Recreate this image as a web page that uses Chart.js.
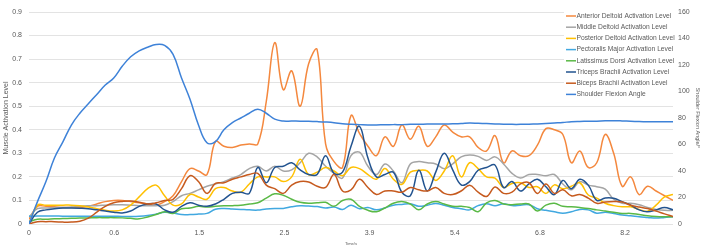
<!DOCTYPE html>
<html><head><meta charset="utf-8">
<script src="https://cdn.jsdelivr.net/npm/chart.js@4/dist/chart.umd.min.js"></script>
<style>html,body{margin:0;padding:0;background:#fff}#wrap{position:relative;width:703px;height:249px}</style>
</head><body><div id="wrap"><canvas id="c" width="703" height="249"></canvas></div>
<script>
// x tick labels (time, s) shown every ~10 samples
const xTickLabels = ['0','0.6','1.5','2.5','3.9','5.4','6.8','8.2'];
const samplesPerLabel = 10.05;
const yTickLabels = ['0','0.1','0.2','0.3','0.4','0.5','0.6','0.7','0.8','0.9'];
const y1TickLabels = ['0','20','40','60','80','100','120','140','160'];
const seriesNames = ['Anterior Deltoid Activation Level','Middle Deltoid Activation Level','Posterior Deltoid Activation Level','Pectoralis Major Activation Level','Latissimus Dorsi Activation Level','Triceps Brachii Activation Level','Biceps Brachii Activation Level','Shoulder Flexion Angle'];
const seriesColors = ['#F4883E','#A5A5A5','#FFC000','#41A8E0','#5AB946','#22538F','#C65A1E','#3E82D8'];

const anteriorDeltoid = [0.02,0.075,0.075,0.073,0.07,0.07,0.07,0.075,0.085,0.095,
 0.1,0.1,0.095,0.09,0.085,0.08,0.095,0.12,0.18,0.235,
 0.225,0.21,0.35,0.33,0.325,0.335,0.34,0.34,0.52,0.77,
 0.57,0.65,0.5,0.68,0.74,0.34,0.265,0.24,0.46,0.385,
 0.33,0.29,0.37,0.33,0.42,0.36,0.415,0.33,0.37,0.42,
 0.39,0.37,0.37,0.325,0.31,0.375,0.26,0.31,0.29,0.29,
 0.335,0.405,0.4,0.38,0.26,0.31,0.24,0.26,0.38,0.3,
 0.16,0.2,0.125,0.16,0.14,0.12,0.1];
const middleDeltoid = [0.03,0.065,0.068,0.07,0.07,0.072,0.075,0.077,0.078,0.08,
 0.082,0.082,0.08,0.078,0.078,0.078,0.08,0.095,0.12,0.13,
 0.145,0.16,0.17,0.18,0.195,0.21,0.235,0.245,0.225,0.245,
 0.225,0.23,0.26,0.3,0.285,0.245,0.215,0.195,0.29,0.305,
 0.245,0.21,0.255,0.225,0.175,0.255,0.265,0.26,0.255,0.235,
 0.255,0.285,0.293,0.287,0.27,0.285,0.255,0.215,0.195,0.21,
 0.21,0.205,0.21,0.17,0.145,0.18,0.165,0.158,0.148,0.105,
 0.088,0.088,0.082,0.07,0.062,0.058,0.058];
const posteriorDeltoid = [0.0,0.08,0.08,0.08,0.08,0.08,0.077,0.072,0.065,0.058,
 0.055,0.06,0.08,0.115,0.15,0.165,0.12,0.08,0.085,0.125,
 0.115,0.105,0.15,0.155,0.14,0.135,0.17,0.2,0.2,0.2,
 0.18,0.2,0.275,0.21,0.22,0.24,0.225,0.205,0.24,0.235,
 0.21,0.19,0.236,0.19,0.168,0.22,0.228,0.225,0.185,0.225,
 0.29,0.2,0.26,0.235,0.2,0.195,0.155,0.172,0.175,0.155,
 0.158,0.13,0.166,0.15,0.16,0.175,0.123,0.11,0.088,0.078,
 0.073,0.073,0.062,0.054,0.08,0.115,0.125];
const pectoralisMajor = [0.033,0.034,0.034,0.034,0.033,0.033,0.033,0.033,0.033,0.033,
 0.033,0.032,0.032,0.033,0.036,0.042,0.05,0.047,0.04,0.04,
 0.042,0.045,0.063,0.066,0.064,0.062,0.06,0.059,0.064,0.066,
 0.066,0.073,0.077,0.076,0.074,0.068,0.072,0.062,0.08,0.065,
 0.07,0.06,0.068,0.08,0.083,0.086,0.075,0.08,0.087,0.08,
 0.07,0.065,0.06,0.078,0.086,0.078,0.086,0.078,0.08,0.082,
 0.065,0.058,0.052,0.046,0.052,0.062,0.06,0.046,0.05,0.045,
 0.038,0.035,0.031,0.028,0.025,0.028,0.031];
const latissimusDorsi = [0.01,0.02,0.02,0.022,0.023,0.024,0.025,0.026,0.027,0.027,
 0.027,0.026,0.024,0.022,0.03,0.04,0.052,0.045,0.065,0.068,
 0.075,0.072,0.075,0.077,0.078,0.08,0.085,0.09,0.11,0.128,
 0.122,0.105,0.092,0.088,0.09,0.092,0.075,0.1,0.105,0.075,
 0.058,0.052,0.068,0.088,0.095,0.085,0.06,0.085,0.095,0.085,
 0.075,0.075,0.07,0.052,0.09,0.1,0.085,0.082,0.085,0.085,
 0.055,0.08,0.088,0.075,0.073,0.07,0.066,0.06,0.055,0.05,
 0.045,0.045,0.04,0.035,0.032,0.031,0.031];
const tricepsBrachii = [0.0,0.05,0.06,0.065,0.068,0.068,0.067,0.065,0.06,0.055,
 0.05,0.047,0.055,0.075,0.085,0.085,0.06,0.05,0.075,0.09,
 0.08,0.075,0.085,0.105,0.13,0.135,0.13,0.24,0.175,0.24,
 0.245,0.26,0.23,0.21,0.21,0.29,0.215,0.22,0.33,0.415,
 0.28,0.2,0.21,0.22,0.135,0.12,0.228,0.14,0.22,0.3,
 0.23,0.166,0.18,0.228,0.24,0.25,0.155,0.18,0.14,0.17,
 0.19,0.158,0.125,0.185,0.15,0.19,0.165,0.1,0.11,0.109,
 0.095,0.08,0.06,0.052,0.06,0.07,0.06];
const bicepsBrachii = [0.0,0.01,0.01,0.01,0.008,0.008,0.012,0.025,0.05,0.075,
 0.09,0.096,0.098,0.092,0.085,0.09,0.1,0.105,0.15,0.205,
 0.18,0.13,0.172,0.175,0.19,0.2,0.21,0.215,0.165,0.15,
 0.13,0.165,0.18,0.178,0.16,0.155,0.21,0.14,0.145,0.19,
 0.155,0.125,0.14,0.14,0.135,0.155,0.145,0.14,0.155,0.13,
 0.125,0.14,0.165,0.135,0.117,0.157,0.13,0.135,0.17,0.175,
 0.13,0.17,0.13,0.145,0.12,0.125,0.11,0.088,0.093,0.095,
 0.093,0.08,0.072,0.066,0.055,0.043,0.032];
const shoulderFlexionAngle = [0,16.9,32,49.8,62,74.7,83.6,90.7,97.8,104.9,
 110.2,119,126.2,130.7,133.4,135.5,134.8,128,110.2,94.2,
 74.7,61.3,62.2,71.1,76.5,80,83.6,86.6,83.6,79.1,
 77.7,77.7,77.6,77.5,77.3,77,76.5,75.6,75.2,75,
 74.8,74.8,74.9,75,75,75.2,75.3,75.4,75.5,75.5,
 75.6,75.8,76.2,76,75.8,75.5,75.3,75.2,75.2,75.3,
 75.5,75.8,76.2,76.6,77.2,77.4,77.5,77.6,77.9,78,
 77.8,77.5,77.3,77.2,77.2,77.2,77.2];

const allSeries = [anteriorDeltoid,middleDeltoid,posteriorDeltoid,pectoralisMajor,latissimusDorsi,tricepsBrachii,bicepsBrachii,shoulderFlexionAngle];
const lastIndex = anteriorDeltoid.length - 1;
const TXT = '#595959';
const FONT = '"Liberation Sans", Arial, sans-serif';

const datasets = allSeries.map((arr, k) => ({
  label: seriesNames[k],
  data: arr.map((v, i) => ({x: i, y: v})),
  borderColor: seriesColors[k],
  backgroundColor: seriesColors[k],
  borderWidth: 1.5,
  pointRadius: 0,
  tension: 0.4,
  fill: false,
  yAxisID: k === 7 ? 'y1' : 'y',
  order: allSeries.length - k
}));

const insideLegend = {
  id: 'insideLegend',
  afterDatasetsDraw(chart) {
    const ctx = chart.ctx, ca = chart.chartArea;
    const boxL = ca.right - 109, boxT = ca.top - 5;
    ctx.save();
    ctx.fillStyle = '#fff';
    ctx.fillRect(boxL, boxT, 109, 95);
    ctx.font = '6.7px ' + FONT;
    ctx.textBaseline = 'middle';
    ctx.textAlign = 'left';
    chart.data.datasets.forEach((ds, k) => {
      const y = boxT + 9 + k * 11.2;
      ctx.strokeStyle = ds.borderColor;
      ctx.lineWidth = 1.5;
      ctx.beginPath();
      ctx.moveTo(boxL + 2, y);
      ctx.lineTo(boxL + 12, y);
      ctx.stroke();
      ctx.fillStyle = TXT;
      ctx.fillText(ds.label, boxL + 12.5, y);
    });
    ctx.restore();
  }
};

new Chart(document.getElementById('c'), {
  type: 'line',
  data: { datasets },
  plugins: [insideLegend],
  options: {
    responsive: false,
    animation: false,
    devicePixelRatio: 1,
    layout: { padding: { top: 12, left: 0, right: 0, bottom: 0 } },
    plugins: { legend: { display: false }, tooltip: { enabled: false } },
    scales: {
      x: {
        type: 'linear', min: 0, max: lastIndex,
        afterBuildTicks: s => { s.ticks = xTickLabels.map((_, k) => ({ value: k * samplesPerLabel })); },
        afterFit: s => { s.height = 25; },
        ticks: { autoSkip: false, maxRotation: 0, padding: 5, color: TXT, font: { size: 7, family: FONT },
                 callback: (v, i) => xTickLabels[i] },
        grid: { display: false, drawTicks: false },
        border: { display: false },
        title: { display: true, text: 'Time/s', color: TXT, font: { size: 4, family: FONT }, padding: { top: 0, bottom: 3 } }
      },
      y: {
        position: 'left', min: 0, max: 0.9,
        afterBuildTicks: s => { s.ticks = yTickLabels.map((t, k) => ({ value: +t })); },
        afterFit: s => { s.width = 29; },
        ticks: { padding: 7, color: TXT, font: { size: 7, family: FONT }, callback: (v, i) => yTickLabels[i] },
        grid: { color: '#e3e3e3', lineWidth: 1, drawTicks: false },
        border: { display: false },
        title: { display: true, text: 'Muscle Activation Level', color: TXT, font: { size: 7, family: FONT }, padding: { top: 2, bottom: 0 } }
      },
      y1: {
        position: 'right', min: 0, max: 160,
        afterBuildTicks: s => { s.ticks = y1TickLabels.map(t => ({ value: +t })); },
        afterFit: s => { s.width = 30; },
        ticks: { padding: 5, color: TXT, font: { size: 7, family: FONT }, callback: (v, i) => y1TickLabels[i] },
        grid: { display: false, drawTicks: false },
        border: { display: false },
        title: { display: true, text: 'Shoulder Flexion Angle/°', color: TXT, font: { size: 5.5, family: FONT }, padding: { top: 2, bottom: 0 } }
      }
    }
  }
});
</script>
</body></html>
